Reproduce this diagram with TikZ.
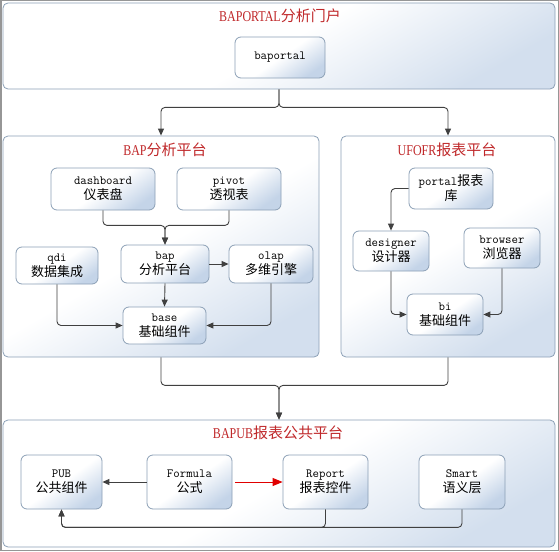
\documentclass[tikz,border=0pt]{standalone}
\usepackage{fontspec}
\setmainfont{Liberation Serif}
\newfontfamily\cjk{Noto Sans CJK SC}
\newfontfamily\ttlfont[FakeStretch=0.8]{Liberation Serif}
\usetikzlibrary{arrows.meta}
\definecolor{ArchLine}{RGB}{64,64,64}
\definecolor{ArchEdge}{RGB}{140,160,182}
\definecolor{ArchBlue}{RGB}{196,212,232}
\definecolor{ArchTitle}{RGB}{192,40,42}
\definecolor{ArchFrame}{RGB}{150,150,150}
\definecolor{ArchHot}{RGB}{224,0,0}
\newcommand\en[1]{{\ttfamily\fontsize{12.5}{15}\selectfont #1}}

\begin{document}
\begin{tikzpicture}[x=1pt,y=-1pt,
  grp/.style n args={2}{draw=ArchEdge,line width=0.8pt,rounded corners=5pt,top color=white,bottom color=ArchBlue!75,middle color=white,shading angle=30,minimum width=#1,minimum height=#2,inner sep=0pt},
  blk/.style n args={2}{draw=ArchEdge,line width=0.8pt,rounded corners=6pt,top color=white,bottom color=ArchBlue,middle color=white,shading angle=35,minimum width=#1,minimum height=#2,inner sep=0pt,align=center,font=\cjk\fontsize{13}{15}\selectfont},
  ttl/.style={text=ArchTitle,font=\cjk\fontsize{15}{18}\selectfont},
  conn/.style={draw=ArchLine,line width=0.9pt,rounded corners=4pt,-{Triangle[length=7pt,width=6pt]}},
  hot/.style={draw=ArchHot,line width=0.9pt,-{Triangle[length=10pt,width=8pt]},shorten <=3pt}]
\useasboundingbox (0,0) rectangle (559,551);
\draw[ArchFrame,line width=1.5pt] (0.75,0.75) rectangle (558.25,550.25);

\node[grp={552}{86}] (portalgrp) at (279,46) {};
\node[grp={316}{221}] (bapgrp) at (161,246.5) {};
\node[grp={214}{221}] (ufogrp) at (448,246.5) {};
\node[grp={552}{127}] (pubgrp) at (279,483.5) {};

\node[ttl] (portalttl) at (280,16) {{\ttlfont BAPORTAL}分析门户};
\node[ttl] (bapttl) at (165,150) {{\ttlfont BAP}分析平台};
\node[ttl] (ufottl) at (447,150) {{\ttlfont UFOFR}报表平台};
\node[ttl] (pubttl) at (278,433) {{\ttlfont BAPUB}报表公共平台};

\node[blk={90}{41}] (baportal) at (280,57.5) {\en{baportal}};

\node[blk={104}{42}] (dashboard) at (103,189) {\en{dashboard}\\仪表盘};
\node[blk={104}{42}] (pivot) at (229,189) {\en{pivot}\\透视表};
\node[blk={82}{37}] (qdi) at (57,265.5) {\en{qdi}\\数据集成};
\node[blk={88}{38}] (bap) at (165,264) {\en{bap}\\分析平台};
\node[blk={84}{38}] (olap) at (271,264) {\en{olap}\\多维引擎};
\node[blk={83}{37}] (base) at (164.5,325.5) {\en{base}\\基础组件};

\node[blk={84}{41}] (portal) at (451,188.5) {\en{portal}报表\\库};
\node[blk={76}{40}] (designer) at (391,251) {\en{designer}\\设计器};
\node[blk={76}{40}] (browser) at (502,248) {\en{browser}\\浏览器};
\node[blk={76}{41}] (bi) at (445,314.5) {\en{bi}\\基础组件};

\node[blk={81}{54}] (pub) at (61.5,482) {\en{PUB}\\公共组件};
\node[blk={85}{54}] (formula) at (189.5,482) {\en{Formula}\\公式};
\node[blk={85}{54}] (report) at (325.5,482) {\en{Report}\\报表控件};
\node[blk={86}{54}] (smart) at (462,482) {\en{Smart}\\语义层};

\draw[conn] (portalgrp.south) -- ++(0,18) -| (bapgrp.north);
\draw[conn] (portalgrp.south) -- ++(0,18) -| (ufogrp.north);
\draw[conn] (bapgrp.south) -- ++(0,28) -| (pubgrp.north);
\draw[conn] (ufogrp.south) -- ++(0,28) -| (pubgrp.north);

\draw[conn] (dashboard.south) -- ++(0,15) -| (bap.north);
\draw[conn] (pivot.south) -- ++(0,15) -| (bap.north);
\draw[conn] (bap.east) -- (olap.west);
\draw[conn] (bap.south) -- (base.north);
\foreach \a/\s in {qdi/west,olap/east} {
   \draw[conn] (\a.south) |- (base.\s);
}

\draw[conn] (portal.west) -| (designer.north);
\foreach \a/\s in {designer/west,browser/east} {
   \draw[conn] (\a.south) |- (bi.\s);
}

\draw[conn] (formula.west) -- (pub.east);
\draw[hot] (formula.east) -- (report.west);
\foreach \a in {report,smart} {
   \draw[conn] (\a.south) -- ++(0,18) -| (pub.south);
}
\end{tikzpicture}
\end{document}
